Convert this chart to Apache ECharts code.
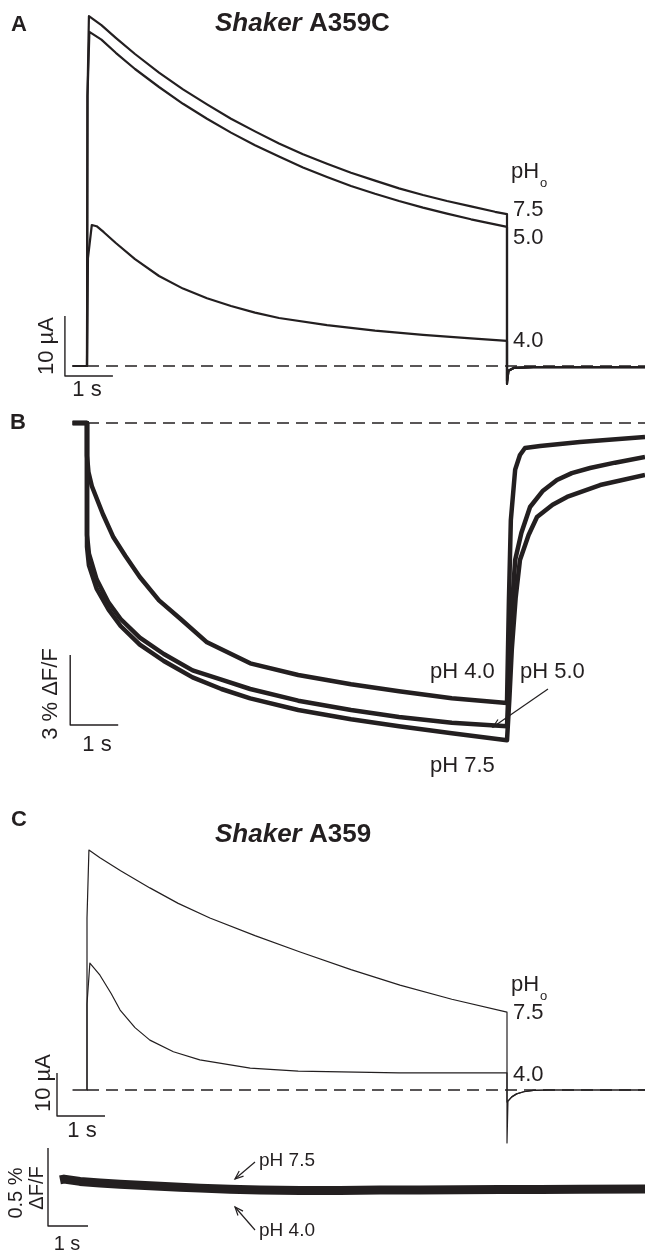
<!DOCTYPE html>
<html><head><meta charset="utf-8">
<script src="https://cdn.jsdelivr.net/npm/echarts@6/dist/echarts.min.js"></script>
<style>html,body{margin:0;padding:0;background:#fff}#c{width:645px;height:1252px}</style>
</head><body><div id="c"></div>
<script>
// ---------- DATA (time in s from pulse onset, current in µA, fluorescence in %ΔF/F) ----------
// Panel A: Shaker A359C currents
const A_pH75 = [[-0.3,0],[0,0],[0.01,45],[0.04,58.3],[0.3,56.8],[0.6,54.7],[1,52.0],[1.5,48.9],[2,46.1],[2.5,43.6],[3,41.2],[3.5,39.1],[4,37.1],[4.5,35.3],[5,33.7],[5.5,32.2],[6,30.9],[6.5,29.6],[7,28.5],[7.5,27.5],[8,26.6],[8.5,25.7],[8.75,25.3],[8.75,-3.0],[8.78,-0.8],[8.9,-0.3],[9.3,-0.2],[11.625,-0.2]];
const A_pH50 = [[-0.3,0],[0,0],[0.01,45],[0.05,55.7],[0.3,54.4],[0.6,52.2],[1,49.5],[1.5,46.5],[2,43.7],[2.5,41.2],[3,38.9],[3.5,36.8],[4,34.9],[4.5,33.1],[5,31.5],[5.5,30.0],[6,28.7],[6.5,27.5],[7,26.4],[7.5,25.4],[8,24.45],[8.5,23.6],[8.75,23.2],[8.75,-3.0],[8.78,-0.8],[8.9,-0.3],[9.3,-0.2],[11.625,-0.2]];
const A_pH40 = [[-0.3,0],[0,0],[0.02,18],[0.1,23.5],[0.2,23.3],[0.35,22.3],[0.6,20.5],[1,17.8],[1.5,15.0],[2,12.9],[2.5,11.3],[3,10.0],[3.5,8.9],[4,8.0],[5,6.8],[6,5.9],[7,5.2],[8,4.6],[8.75,4.2],[8.75,-2.5],[8.78,-0.8],[8.9,-0.3],[9.3,-0.2],[11.625,-0.2]];
// Panel B: Shaker A359C fluorescence
const B_pH40 = [[-0.3,0],[0,0],[0,-1.4],[0.03,-2.1],[0.1,-2.7],[0.33,-3.9],[0.55,-4.9],[0.8,-5.7],[1.1,-6.6],[1.5,-7.6],[1.95,-8.4],[2.5,-9.4],[3.4,-10.3],[4.4,-10.8],[5.5,-11.2],[6.5,-11.5],[7.6,-11.8],[8.75,-12.0],[8.79,-7.6],[8.83,-4.16],[8.92,-2.0],[9.02,-1.37],[9.125,-1.07],[9.44,-0.99],[10.27,-0.81],[11.625,-0.6]];
const B_pH50 = [[-0.3,0],[0,0],[0,-4.8],[0.04,-5.6],[0.2,-6.7],[0.45,-7.7],[0.7,-8.4],[1.1,-9.2],[1.6,-9.9],[2.2,-10.6],[2.8,-11.0],[3.4,-11.4],[4.4,-11.9],[5.5,-12.3],[6.5,-12.6],[7.6,-12.85],[8.75,-13.0],[8.8,-10.5],[8.85,-8.0],[8.92,-5.87],[9.05,-4.7],[9.23,-3.6],[9.5,-2.9],[9.79,-2.44],[10.1,-2.15],[10.48,-1.93],[11,-1.7],[11.625,-1.46]];
const B_pH75 = [[-0.3,0],[0,0],[0,-5.3],[0.04,-6.1],[0.2,-7.1],[0.45,-8.0],[0.7,-8.7],[1.1,-9.5],[1.6,-10.2],[2.2,-10.9],[2.8,-11.4],[3.4,-11.8],[4.4,-12.3],[5.5,-12.7],[6.5,-13.0],[7.6,-13.3],[8.75,-13.6],[8.8,-11.8],[8.85,-9.7],[8.93,-7.5],[9.02,-5.87],[9.2,-4.8],[9.375,-4.03],[9.7,-3.5],[10.0,-3.17],[10.69,-2.66],[11.625,-2.23]];
// Panel C: Shaker A359 currents
const C_pH75 = [[-0.3,0],[0,0],[0,40],[0.04,55.8],[0.27,54.0],[0.7,51.0],[1.31,47.0],[1.9,43.4],[2.56,40.0],[3.5,35.9],[4.44,32.1],[5.5,28.0],[6.52,24.4],[7.6,21.1],[8.75,18.1],[8.75,-12.3],[8.77,-2.6],[8.85,-1.6],[8.95,-0.9],[9.1,-0.4],[9.3,-0.1],[9.6,0],[11.625,0]];
const C_pH40 = [[-0.3,0],[0,0],[0,20],[0.06,29.5],[0.27,26.7],[0.5,22.5],[0.69,18.6],[1.0,14.5],[1.31,11.6],[1.8,8.9],[2.35,7.0],[3.4,5.1],[4.4,4.4],[6.5,4.0],[8.75,4.0],[8.75,-2.8],[8.85,-1.6],[8.95,-0.9],[9.1,-0.4],[9.3,-0.1],[9.6,0],[11.625,0]];
// Panel C bottom: Shaker A359 fluorescence (pH 7.5 and 4.0 superimposed)
const D_trace = [[0,0.065],[0.1,0.07],[0.5,0.055],[1,0.045],[1.5,0.037],[2,0.03],[2.5,0.024],[3,0.018],[3.5,0.012],[4.25,0.005],[5,0],[6,-0.003],[7,-0.003],[8,0],[9,0],[10,0.002],[11,0.003],[12,0.004],[13,0.005],[14.625,0.006]];
// Baselines and scale bars [origin t, origin value, length t, length value]
const baseA = [[0,0],[11.625,0]];
const baseB = [[0,0],[11.625,0]];
const baseC = [[0,0],[11.625,0]];
const scaleA = [-0.46, -1.67, 1, 10];
const scaleB = [-0.35, -12.94, 1, 3];
const scaleC = [-0.625, -6.05, 1, 10];
const scaleD = [-0.3, -0.231, 1, 0.5];

// ---------- CHART ----------
const FONT = "'Liberation Sans', Arial, sans-serif";
const INK = '#231f20';
function bar(s){ return [[s[0], s[1]+s[3]],[s[0], s[1]],[s[0]+s[2], s[1]]]; }
function line(data, idx, w, extra){ return Object.assign({type:'line', data, xAxisIndex:idx, yAxisIndex:idx, symbol:'none', clip:false, animation:false, silent:true,
  lineStyle:{color:INK, width:w, join:'round'}}, extra||{}); }
function dashed(data, idx){ return line(data, idx, 1.3, {lineStyle:{color:INK, width:1.3, type:[12,7]}}); }
function txt(x,y,s,size,opt){ opt=opt||{}; return {type:'text', x, y, rotation:opt.rot||0, style:{text:s, fill:INK, fontSize:size, fontFamily:FONT,
  fontWeight:opt.bold?'bold':'normal', fontStyle:opt.italic?'italic':'normal', align:opt.align||'left', verticalAlign:'middle'}}; }
function arrow(x1,y1,x2,y2){ const a=Math.atan2(y2-y1,x2-x1), L=9, sp=0.38;
  const p1=[x2-L*Math.cos(a-sp), y2-L*Math.sin(a-sp)], p2=[x2-L*Math.cos(a+sp), y2-L*Math.sin(a+sp)];
  const st={stroke:INK, lineWidth:1.2};
  return [{type:'line', shape:{x1,y1,x2,y2}, style:st},{type:'polyline', shape:{points:[p1,[x2,y2],p2]}, style:st}]; }
function title(x,y,rest){ return {type:'text', x, y, style:{text:'{i|Shaker} {b|'+rest+'}', fill:INK, fontFamily:FONT, fontSize:26, verticalAlign:'middle',
  rich:{i:{fontStyle:'italic', fontWeight:'bold', fontSize:26, fontFamily:FONT, fill:INK}, b:{fontWeight:'bold', fontSize:26, fontFamily:FONT, fill:INK}}}}; }

const chart = echarts.init(document.getElementById('c'), null, {renderer:'canvas'});
const hidden = {show:false};
const option = {
  backgroundColor:'#fff', animation:false,
  grid:[
    {left:0, width:645, top:6, height:390},
    {left:0, width:645, top:399.67, height:373.33},
    {left:0, width:645, top:832, height:318.2},
    {left:0, width:645, top:1143.2, height:93.6}
  ],
  xAxis:[
    Object.assign({type:'value', gridIndex:0, min:-1.8125, max:11.625}, hidden),
    Object.assign({type:'value', gridIndex:1, min:-1.8125, max:11.625}, hidden),
    Object.assign({type:'value', gridIndex:2, min:-1.8125, max:11.625}, hidden),
    Object.assign({type:'value', gridIndex:3, min:-1.5, max:14.625}, hidden)
  ],
  yAxis:[
    Object.assign({type:'value', gridIndex:0, min:-5, max:60}, hidden),
    Object.assign({type:'value', gridIndex:1, min:-15, max:1}, hidden),
    Object.assign({type:'value', gridIndex:2, min:-14, max:60}, hidden),
    Object.assign({type:'value', gridIndex:3, min:-0.3, max:0.3}, hidden)
  ],
  series:[
    dashed(baseA,0), line(A_pH75,0,2.2), line(A_pH50,0,2.2), line(A_pH40,0,2.2), line(bar(scaleA),0,1.4),
    dashed(baseB,1), line(B_pH40,1,4.5), line(B_pH50,1,4.5), line(B_pH75,1,4.5), line(bar(scaleB),1,1.4),
    dashed(baseC,2), line(C_pH75,2,1.2), line(C_pH40,2,1.2), line(bar(scaleC),2,1.4),
    line(D_trace,3,9), line(bar(scaleD),3,1.4)
  ],
  graphic:[
    txt(11,25,'A',22,{bold:true}), title(215,24,'A359C'),
    txt(511,172,'pH',22), txt(540,183,'o',13),
    txt(513,210,'7.5',22), txt(513,238,'5.0',22), txt(513,341,'4.0',22),
    txt(47,346,'10 µA',22,{rot:Math.PI/2, align:'center'}), txt(87,390,'1 s',22,{align:'center'}),
    txt(10,423,'B',22,{bold:true}),
    txt(430,672,'pH 4.0',22), txt(520,672,'pH 5.0',22), txt(430,766,'pH 7.5',22),
    ...arrow(548,689,493,727),
    txt(51,694,'3 % ΔF/F',22,{rot:Math.PI/2, align:'center'}), txt(97,745,'1 s',22,{align:'center'}),
    txt(11,820,'C',22,{bold:true}), title(215,835,'A359'),
    txt(511,985,'pH',22), txt(540,996,'o',13),
    txt(513,1013,'7.5',22), txt(513,1075,'4.0',22),
    txt(44,1083,'10 µA',22,{rot:Math.PI/2, align:'center'}), txt(82,1131,'1 s',22,{align:'center'}),
    txt(16,1193,'0.5 %',20,{rot:Math.PI/2, align:'center'}), txt(37,1188,'ΔF/F',20,{rot:Math.PI/2, align:'center'}),
    txt(67,1244,'1 s',20,{align:'center'}),
    txt(259,1161,'pH 7.5',19), txt(259,1231,'pH 4.0',19),
    ...arrow(255,1162,235,1179), ...arrow(255,1230,235,1207)
  ]
};
chart.setOption(option);
</script></body></html>
